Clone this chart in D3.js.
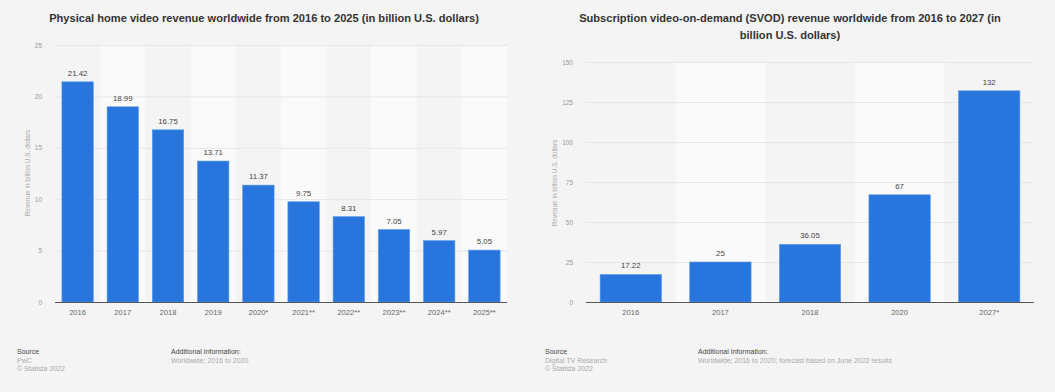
<!DOCTYPE html>
<html><head><meta charset="utf-8">
<script src="https://cdn.jsdelivr.net/npm/d3@7"></script>
<style>
html,body{margin:0;padding:0;background:#f4f4f4;}
svg{display:block;font-family:"Liberation Sans",Arial,sans-serif;}
</style></head>
<body>
<svg id="c" width="1055" height="392"></svg>
<script>
// ---- Data ----
const leftCategories = ["2016","2017","2018","2019","2020*","2021**","2022**","2023**","2024**","2025**"];
const leftValues = [21.42,18.99,16.75,13.71,11.37,9.75,8.31,7.05,5.97,5.05];
const leftTicks = [0,5,10,15,20,25];
const leftTitle = ["Physical home video revenue worldwide from 2016 to 2025 (in billion U.S. dollars)"];
const leftSource = ["PwC","© Statista 2022"];
const leftInfo = ["Worldwide; 2016 to 2020"];

const rightCategories = ["2016","2017","2018","2020","2027*"];
const rightValues = [17.22,25,36.05,67,132];
const rightTicks = [0,25,50,75,100,125,150];
const rightTitle = ["Subscription video-on-demand (SVOD) revenue worldwide from 2016 to 2027 (in","billion U.S. dollars)"];
const rightSource = ["Digital TV Research","© Statista 2022"];
const rightInfo = ["Worldwide; 2016 to 2020; forecast based on June 2022 results"];

const yTitle = "Revenue in billion U.S. dollars";

const svg = d3.select("#c");
svg.append("rect").attr("width",1055).attr("height",392).attr("fill","#f4f4f4");

function chart(o){
  const g = svg.append("g");
  const x = d3.scaleBand().domain(o.cats).range([o.x0,o.x1]).paddingInner(0).paddingOuter(0);
  const y = d3.scaleLinear().domain([0,o.max]).range([o.y0,o.y1]);
  // alternating bands
  g.selectAll("rect.band").data(o.cats.filter((d,i)=>i%2===1)).join("rect")
    .attr("x",d=>x(d)).attr("y",o.y1).attr("width",x.bandwidth()).attr("height",o.y0-o.y1)
    .attr("fill","#fafafa");
  // gridlines
  g.selectAll("line.grid").data(o.ticks.filter(t=>t>0)).join("line")
    .attr("x1",o.x0).attr("x2",o.x1).attr("y1",d=>y(d)+0.5).attr("y2",d=>y(d)+0.5)
    .attr("stroke","#e6e6e6").attr("stroke-width",1);
  // y axis
  const ya = g.append("g").attr("transform",`translate(${o.x0},0)`)
    .call(d3.axisLeft(y).tickValues(o.ticks).tickSize(0).tickPadding(o.tickPad));
  ya.select(".domain").remove();
  ya.selectAll("text").attr("font-size",6.5).attr("fill","#999").attr("font-family","Liberation Sans, Arial, sans-serif");
  // bars
  const bw = x.bandwidth()*o.barFrac;
  g.selectAll("rect.bar").data(o.vals).join("rect")
    .attr("x",(d,i)=>x(o.cats[i])+(x.bandwidth()-bw)/2)
    .attr("y",d=>y(d)).attr("width",bw).attr("height",d=>o.y0-y(d))
    .attr("fill","#2876dd").attr("stroke","#5d9bea").attr("stroke-width",0.6);
  // value labels
  g.selectAll("text.val").data(o.vals).join("text")
    .attr("x",(d,i)=>x(o.cats[i])+x.bandwidth()/2).attr("y",d=>y(d)-6)
    .attr("text-anchor","middle").attr("font-size",7.8).attr("fill","#444")
    .text((d,i)=>o.labels[i]);
  // baseline
  g.append("line").attr("x1",o.x0).attr("x2",o.x1).attr("y1",o.y0+0.5).attr("y2",o.y0+0.5)
    .attr("stroke","#555").attr("stroke-width",1);
  // x axis
  const xa = g.append("g").attr("transform",`translate(0,${o.y0})`)
    .call(d3.axisBottom(x).tickSize(0).tickPadding(8));
  xa.select(".domain").remove();
  xa.selectAll("text").attr("font-size",7.6).attr("fill","#666").attr("font-family","Liberation Sans, Arial, sans-serif");
  // y title
  g.append("text").attr("transform",`translate(${o.ytx},${o.yty}) rotate(-90)`)
    .attr("text-anchor","middle").attr("font-size",6.5).attr("fill","#aaa").text(yTitle);
  // title
  const t = g.append("text").attr("text-anchor","middle").attr("font-size",11.1).attr("font-weight","bold").attr("fill","#333");
  o.title.forEach((s,i)=>t.append("tspan").attr("x",o.tx).attr("y",o.ty+i*17).text(s));
  // footer
  g.append("text").attr("x",o.fx).attr("y",354).attr("font-size",7).attr("fill","#444").text("Source");
  o.source.forEach((s,i)=>g.append("text").attr("x",o.fx).attr("y",362.5+i*8).attr("font-size",7).attr("fill","#aaa").text(s));
  g.append("text").attr("x",o.ix).attr("y",354).attr("font-size",7).attr("fill","#444").text("Additional Information:");
  o.info.forEach((s,i)=>g.append("text").attr("x",o.ix).attr("y",362.5+i*8).attr("font-size",7).attr("fill","#aaa").text(s));
}

chart({cats:leftCategories, vals:leftValues, labels:leftValues.map(d=>d.toFixed(2)), ticks:leftTicks, max:25,
  x0:55, x1:507, y0:302, y1:45, barFrac:0.695, tickPad:13, ytx:30, yty:173,
  title:leftTitle, tx:264, ty:22, source:leftSource, info:leftInfo, fx:17, ix:171});
chart({cats:rightCategories, vals:rightValues, labels:rightValues.map(d=>String(d)), ticks:rightTicks, max:150,
  x0:586, x1:1034, y0:302, y1:62, barFrac:0.685, tickPad:13, ytx:557, yty:183,
  title:rightTitle, tx:790, ty:22, source:rightSource, info:rightInfo, fx:545, ix:698});
</script>
</body></html>
